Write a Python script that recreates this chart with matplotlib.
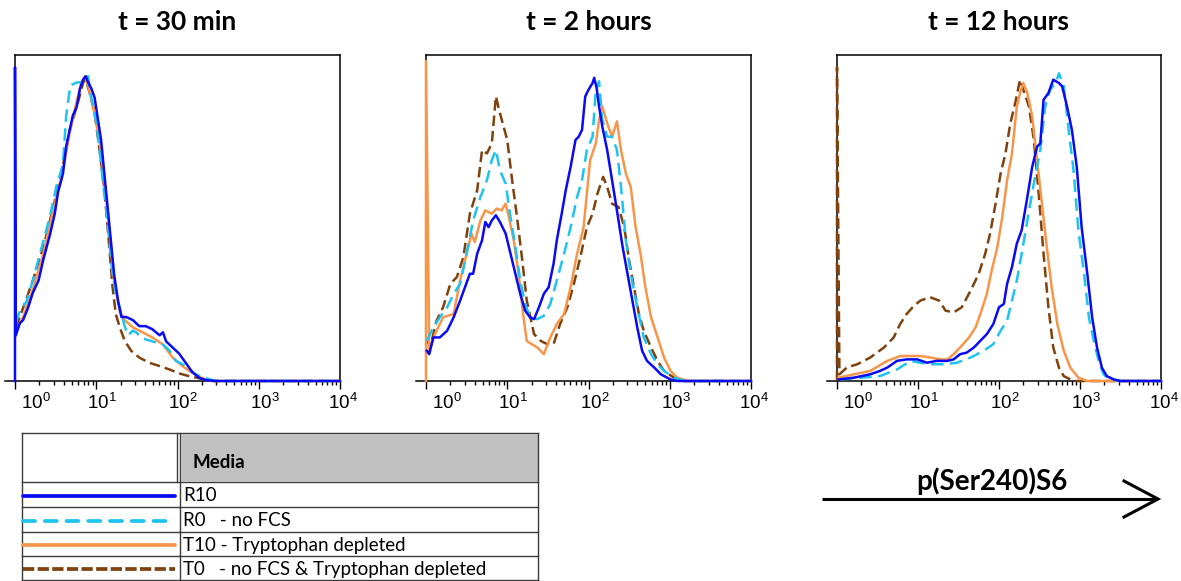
import matplotlib
matplotlib.use("Agg")
import matplotlib.pyplot as plt
import matplotlib.transforms as mtransforms
from matplotlib.ticker import FixedLocator, NullFormatter, NullLocator
import numpy as np

plt.rcParams['mathtext.fontset'] = 'custom'
plt.rcParams['mathtext.rm'] = 'Liberation Sans'
plt.rcParams['mathtext.it'] = 'Liberation Sans:italic'
plt.rcParams['mathtext.bf'] = 'Liberation Sans:bold'
plt.rcParams['mathtext.default'] = 'rm'

# ---------------- data (x = log10 fluorescence, y = % of max) ----------------
TITLES = ["t = 30 min", "t = 2 hours", "t = 12 hours"]
SERIES = ["R10", "R0", "T10", "T0"]
LEGEND_LABELS = ["R10", "R0   - no FCS", "T10 - Tryptophan depleted",
                 "T0   - no FCS & Tryptophan depleted"]
XTICKS = [1, 10, 100, 1000, 10000]
XTICK_LABELS = ["$10^{0}$", "$10^{1}$", "$10^{2}$", "$10^{3}$", "$10^{4}$"]
AXIS_LABEL = "p(Ser240)S6"
TABLE_HEADER = "Media"

# panel 1 : t = 30 min
P1_R10_LX = [0, 0, 0.01, 0.06, 0.10, 0.16, 0.22, 0.29, 0.35, 0.43, 0.49, 0.53, 0.59, 0.63, 0.67, 0.71,
             0.76, 0.80, 0.84, 0.87, 0.90, 0.94, 0.98, 1.02, 1.06, 1.10, 1.14, 1.18, 1.22, 1.27, 1.31,
             1.37, 1.45, 1.53, 1.61, 1.69, 1.78, 1.82, 1.86, 1.94, 2.02, 2.10, 2.18, 2.27, 2.35, 2.47, 4.0]
P1_R10_Y = [0, 103, 15, 19, 20, 24, 29, 33, 40, 48, 55, 62, 68, 77, 82, 87, 90, 96, 99, 100, 98, 96,
            93, 86, 79, 68, 57, 46, 35, 26, 21, 21, 20, 18, 18, 17, 15, 16, 13, 11, 9, 6, 3, 1, 0.3, 0, 0]
P1_R0_LX = [0.01, 0.06, 0.14, 0.22, 0.35, 0.43, 0.51, 0.59, 0.63, 0.68, 0.76, 0.82, 0.86, 0.90, 0.94,
            1.00, 1.04, 1.08, 1.12, 1.16, 1.20, 1.24, 1.29, 1.35, 1.39, 1.45, 1.49, 1.57, 1.69, 1.82,
            1.90, 1.98, 2.10, 2.22, 2.35, 2.47, 4.0]
P1_R0_Y = [19, 23, 26, 33, 46, 54, 64, 71, 87, 97, 98, 98, 100, 100, 93, 85, 76, 66, 57, 46, 35, 29,
           24, 18, 15, 16.5, 16, 14, 13, 12, 10, 6.6, 5, 2.2, 0.9, 0, 0]
P1_T10_LX = [0.01, 0.10, 0.22, 0.35, 0.47, 0.59, 0.67, 0.76, 0.82, 0.86, 0.90, 0.96, 1.04, 1.10, 1.16,
             1.22, 1.29, 1.35, 1.45, 1.57, 1.69, 1.82, 1.94, 2.06, 2.18, 2.31, 2.43, 4.0]
P1_T10_Y = [16.5, 21, 30, 42, 56, 69, 81, 92, 98, 100, 97, 90, 79, 66, 50, 33, 23, 20, 17.6, 16, 14.3,
            12, 7.7, 4.9, 2.7, 0.9, 0, 0]
P1_T0_LX = [0.01, 0.10, 0.22, 0.35, 0.47, 0.57, 0.67, 0.78, 0.84, 0.87, 0.92, 0.98, 1.04, 1.10, 1.16,
            1.20, 1.24, 1.29, 1.35, 1.43, 1.53, 1.65, 1.78, 1.90, 2.02, 2.14, 2.27, 2.43, 4.0]
P1_T0_Y = [17.6, 24, 33, 44, 57, 68, 82, 92, 98, 99, 94.5, 88, 76, 63, 44, 31, 22, 17.6, 13.2, 9.9,
           7.7, 6, 4.9, 3.8, 2.5, 1.6, 0.9, 0, 0]

# panel 2 : t = 2 hours
P2_R10_LX = [0.01, 0.04, 0.09, 0.17, 0.26, 0.34, 0.42, 0.48, 0.54, 0.58,
             0.63, 0.69, 0.73, 0.77, 0.81, 0.86, 0.91, 0.98, 1.04, 1.10,
             1.16, 1.22, 1.28, 1.33, 1.39, 1.45, 1.51, 1.57, 1.61, 1.67,
             1.72, 1.78, 1.84, 1.88, 1.92, 1.96, 2.00, 2.05, 2.07, 2.10,
             2.13, 2.17, 2.23, 2.29, 2.35, 2.42, 2.48, 2.54, 2.60, 2.66,
             2.72, 2.81, 2.89, 3.01, 3.09, 4.0]
P2_R10_Y = [9.9, 8.8, 14.3, 14.3, 16.5, 20.9, 26.4, 30.8, 35.2, 35.2,
            41.8, 46.2, 52.2, 50.5, 52.7, 54.4, 52.2, 48.4, 41.8, 35.2,
            28.6, 23.1, 20.9, 20.3, 24.2, 28.6, 30.8, 38.5, 46.2, 54.9,
            62.6, 70.3, 79.1, 80.2, 82.4, 93.4, 95.6, 97.8, 99.5, 96.2,
            90.1, 83.5, 75.8, 65.9, 56.0, 44.0, 35.2, 26.4, 17.6, 9.9,
            6.6, 4.4, 2.2, 0.5, 0, 0]
P2_R0_LX = [0.01, 0.09, 0.17, 0.26, 0.34, 0.42, 0.50, 0.58, 0.67, 0.75,
            0.81, 0.86, 0.91, 0.98, 1.04, 1.10, 1.16, 1.22, 1.28, 1.37,
            1.45, 1.53, 1.61, 1.70, 1.78, 1.86, 1.92, 1.98, 2.05, 2.09,
            2.13, 2.17, 2.23, 2.29, 2.35, 2.40, 2.46, 2.52, 2.60, 2.68,
            2.77, 2.85, 2.93, 3.05, 3.18, 4.0]
P2_R0_Y = [13.2, 17.6, 20.9, 24.2, 28.6, 31.9, 41.8, 52.7, 60.4, 65.9,
           72.5, 75.8, 69.2, 64.8, 53.8, 44.0, 33.0, 25.3, 20.9, 20.3,
           21.4, 25.3, 33.0, 41.8, 50.5, 60.4, 65.9, 75.8, 80.2, 95.6,
           98.4, 85.7, 80.2, 80.2, 75.8, 63.7, 46.2, 35.2, 24.2, 14.3,
           8.8, 5.5, 3.3, 1.1, 0, 0]
P2_T10_LX = [0, 0, 0.04, 0.11, 0.21, 0.34, 0.42, 0.50, 0.56, 0.60,
             0.67, 0.73, 0.81, 0.87, 0.93, 0.98, 1.02, 1.08, 1.14, 1.20,
             1.24, 1.30, 1.37, 1.45, 1.53, 1.61, 1.70, 1.78, 1.86, 1.94,
             2.02, 2.09, 2.13, 2.17, 2.23, 2.29, 2.35, 2.40, 2.46, 2.52,
             2.58, 2.64, 2.70, 2.77, 2.85, 2.93, 3.01, 3.09, 3.22, 4.0]
P2_T10_Y = [0, 105, 9.9, 15.4, 20.9, 22.0, 33.0, 41.8, 48.4, 45.6,
            52.7, 56.0, 54.9, 56.6, 56.0, 58.2, 53.8, 46.2, 35.2, 20.9,
            13.2, 12.1, 11.0, 8.8, 14.3, 18.7, 22.0, 30.8, 41.8, 50.5,
            72.5, 78.0, 85.7, 90.1, 84.6, 80.2, 85.2, 75.8, 68.1, 63.7,
            50.5, 41.8, 30.8, 20.9, 14.3, 7.7, 3.3, 1.1, 0, 0]
P2_T0_LX = [0.02, 0.05, 0.13, 0.21, 0.30, 0.38, 0.46, 0.54, 0.63, 0.69,
            0.75, 0.81, 0.86, 0.91, 1.00, 1.06, 1.12, 1.18, 1.24, 1.33,
            1.41, 1.49, 1.57, 1.65, 1.74, 1.82, 1.90, 1.98, 2.05, 2.11,
            2.18, 2.23, 2.29, 2.37, 2.44, 2.50, 2.56, 2.62, 2.68, 2.77,
            2.85, 2.93, 3.05, 3.18, 4.0]
P2_T0_Y = [13.2, 11.0, 19.8, 24.2, 31.9, 34.1, 40.7, 54.9, 62.6, 75.8,
           74.7, 78.0, 93.4, 87.9, 79.1, 65.9, 53.8, 40.7, 26.4, 15.4,
           13.2, 12.1, 12.1, 18.7, 24.2, 31.9, 40.7, 50.5, 54.9, 61.5,
           67.0, 63.7, 58.2, 57.1, 50.5, 39.6, 30.8, 22.0, 16.5, 11.0,
           6.6, 3.3, 1.1, 0, 0]

# panel 3 : t = 12 hours
P3_R10_LX = [0.02, 0.21, 0.41, 0.53, 0.62, 0.74, 0.86, 0.99, 1.11, 1.23,
             1.36, 1.44, 1.52, 1.60, 1.69, 1.77, 1.85, 1.93, 2.00, 2.06,
             2.10, 2.16, 2.22, 2.28, 2.35, 2.41, 2.47, 2.51, 2.55, 2.61,
             2.67, 2.74, 2.78, 2.84, 2.90, 2.96, 3.02, 3.09, 3.15, 3.21,
             3.27, 3.33, 3.42, 3.50, 4.0]
P3_R10_Y = [0.5, 1.1, 2.2, 3.3, 4.4, 6.6, 7.1, 7.1, 6.0, 6.6,
            6.6, 7.1, 8.8, 9.3, 11.0, 13.2, 15.4, 18.7, 24.2, 25.3,
            31.9, 37.4, 45.1, 49.5, 60.4, 70.3, 76.9, 78.0, 92.3, 94.5,
            98.9, 97.8, 96.7, 90.1, 82.4, 70.3, 50.5, 35.2, 20.9, 11.0,
            4.4, 1.6, 0.5, 0, 0]
P3_R0_LX = [0.04, 0.29, 0.53, 0.74, 0.91, 1.03, 1.15, 1.32, 1.48, 1.65,
            1.81, 1.93, 2.02, 2.10, 2.16, 2.22, 2.28, 2.35, 2.43, 2.51,
            2.57, 2.63, 2.70, 2.74, 2.80, 2.86, 2.92, 2.98, 3.05, 3.11,
            3.17, 3.23, 3.29, 3.37, 3.50, 4.0]
P3_R0_Y = [0.5, 1.1, 1.6, 3.8, 6.6, 6.0, 5.5, 5.5, 6.0, 7.7,
           9.9, 12.1, 16.5, 19.8, 26.4, 33.0, 41.8, 52.7, 64.8, 75.8,
           90.1, 95.6, 97.8, 101, 96.7, 82.4, 69.2, 49.5, 35.2, 20.9,
           13.2, 6.6, 2.2, 0.5, 0, 0]
P3_T10_LX = [0.02, 0.21, 0.41, 0.62, 0.78, 0.91, 1.03, 1.15, 1.28, 1.36,
             1.44, 1.52, 1.63, 1.71, 1.77, 1.85, 1.91, 1.98, 2.04, 2.10,
             2.16, 2.22, 2.26, 2.30, 2.35, 2.41, 2.47, 2.53, 2.59, 2.65,
             2.72, 2.80, 2.88, 2.98, 3.09, 4.0]
P3_T10_Y = [1.1, 2.2, 3.3, 6.6, 8.2, 8.2, 8.2, 7.7, 7.1, 7.1,
            8.8, 11.0, 14.3, 17.6, 22.0, 28.6, 36.3, 44.0, 53.8, 65.9,
            74.7, 90.1, 94.5, 97.8, 94.5, 86.8, 72.5, 58.2, 44.0, 30.8,
            18.7, 9.9, 4.4, 1.1, 0, 0]
P3_T0_LX = [0, 0, 0.03, 0.12, 0.25, 0.41, 0.58, 0.70, 0.78, 0.86,
            0.95, 1.03, 1.15, 1.26, 1.34, 1.44, 1.54, 1.65, 1.75, 1.83,
            1.89, 1.95, 2.02, 2.08, 2.14, 2.20, 2.26, 2.30, 2.37, 2.43,
            2.49, 2.55, 2.61, 2.67, 2.74, 2.80, 2.92, 4.0]
P3_T0_Y = [0, 103, 2.2, 4.4, 5.5, 7.7, 11.0, 14.3, 18.7, 22.0,
           24.7, 26.4, 27.5, 26.4, 23.1, 22.5, 24.2, 29.7, 35.2, 41.8,
           48.4, 57.1, 68.1, 74.7, 84.6, 91.2, 98.9, 95.6, 90.1, 79.1,
           61.5, 41.8, 24.2, 11.0, 4.4, 1.6, 0, 0]

PANEL_DATA = [
    {"R10": (P1_R10_LX, P1_R10_Y), "R0": (P1_R0_LX, P1_R0_Y),
     "T10": (P1_T10_LX, P1_T10_Y), "T0": (P1_T0_LX, P1_T0_Y)},
    {"R10": (P2_R10_LX, P2_R10_Y), "R0": (P2_R0_LX, P2_R0_Y),
     "T10": (P2_T10_LX, P2_T10_Y), "T0": (P2_T0_LX, P2_T0_Y)},
    {"R10": (P3_R10_LX, P3_R10_Y), "R0": (P3_R0_LX, P3_R0_Y),
     "T10": (P3_T10_LX, P3_T10_Y), "T0": (P3_T0_LX, P3_T0_Y)},
]

# ---------------- styles ----------------
COLORS = {"R10": "#0a0af5", "R0": "#1ec3f0", "T10": "#f7964a", "T0": "#7f420e"}
DASH = {"R10": "-", "R0": (0, (5.0, 2.6)), "T10": "-", "T0": (0, (4.2, 2.0))}
LEG_DASH = {"R10": "-", "R0": (0, (3.2, 2.6)), "T10": "-", "T0": (0, (3.0, 0.9))}

W, H = 1181, 581
fig = plt.figure(figsize=(W / 100, H / 100), dpi=100)
fig.patch.set_facecolor("white")


def px_axes(left, top, right, bottom, **kw):
    return fig.add_axes([left / W, 1 - bottom / H, (right - left) / W, (bottom - top) / H], **kw)


PANELS = [(15, 55, 340, 381), (426, 55, 751, 381), (837, 55, 1161, 381)]
LABEL_DX = [6, -9, -9, -9, -12]  # px offsets of tick labels (left aligned)

for i, (l, t, r, b) in enumerate(PANELS):
    ax = px_axes(l, t, r, b)
    ax.set_xscale("log")
    ax.set_xlim(1, 1e4)
    ax.set_ylim(0, 107)
    for name in reversed(SERIES):
        lx, yv = PANEL_DATA[i][name]
        ax.plot(10 ** np.asarray(lx), yv, color=COLORS[name], ls=DASH[name], lw=1.8,
                zorder=3, clip_on=False, solid_joinstyle="round")
    for s in ax.spines.values():
        s.set_linewidth(1.1)
        s.set_color("black")
    ax.yaxis.set_major_locator(NullLocator())
    ax.yaxis.set_minor_locator(NullLocator())
    ax.xaxis.set_major_locator(FixedLocator(XTICKS))
    minors = [m * 10 ** d for d in range(4) for m in range(2, 10)]
    ax.xaxis.set_minor_locator(FixedLocator(minors))
    ax.xaxis.set_major_formatter(NullFormatter())
    ax.xaxis.set_minor_formatter(NullFormatter())
    ax.tick_params(axis="x", which="major", length=5.5, width=1.0, direction="out", color="black")
    ax.tick_params(axis="x", which="minor", length=3.0, width=1.0, direction="out", color="black")
    # small extension of the x axis line to the left
    ax.plot([-0.03, 0], [0, 0], transform=ax.transAxes, color="black", lw=1.1, clip_on=False)
    for v, lab, dx in zip(XTICKS, XTICK_LABELS, LABEL_DX):
        off = mtransforms.ScaledTranslation(dx / 100, -12 / 100, fig.dpi_scale_trans)
        ax.text(v, 0, lab, transform=ax.get_xaxis_transform() + off, ha="left", va="top",
                fontsize=13.5, family="Liberation Sans", color="black")
    fig.text(((l + r) / 2) / W, 1 - 22 / H, TITLES[i], ha="center", va="center",
             fontsize=19, fontweight="bold", family="Lato")

# ---------------- overlay: legend table and axis arrow ----------------
ov = fig.add_axes([0, 0, 1, 1])
ov.set_xlim(0, W)
ov.set_ylim(H, 0)
ov.axis("off")
ov.patch.set_visible(False)

TL, TR, TT = 22, 538, 433
ROW_LINES = [482, 507, 532, 556, 580]
GRID = "#3a3a3a"
ov.add_patch(plt.Rectangle((181, TT + 1), TR - 181, ROW_LINES[0] - TT - 2,
                           facecolor="#c0c0c0", edgecolor="#e0e0e0", lw=0.8))
ov.plot([TL, TR], [TT, TT], color=GRID, lw=1.0)
for yl in ROW_LINES:
    ov.plot([TL, TR], [yl, yl], color=GRID, lw=1.0)
ov.plot([TL, TL], [TT, H], color=GRID, lw=1.0)
ov.plot([TR, TR], [TT, H], color=GRID, lw=1.0)
ov.plot([177, 177], [TT, ROW_LINES[0]], color=GRID, lw=1.0)
ov.plot([180, 180], [TT, H], color=GRID, lw=1.0)
ov.text(192, 462, TABLE_HEADER, ha="left", va="center", fontsize=13.5,
        fontweight="bold", family="Lato")
for k, name in enumerate(SERIES):
    yc = (ROW_LINES[k] + ROW_LINES[k + 1]) / 2 + 1
    ov.plot([TL + 1, 175], [yc, yc], color=COLORS[name], ls=LEG_DASH[name], lw=2.7,
            solid_capstyle="round", dash_capstyle="round" if name == "R0" else "butt")
    ov.text(183, yc, LEGEND_LABELS[k], ha="left", va="center", fontsize=13.5, family="Lato")

# arrow with label
ov.plot([822, 1157], [499, 499], color="black", lw=2.2, solid_capstyle="butt")
ov.plot([1124, 1158, 1124], [481, 499, 517], color="black", lw=2.2, solid_joinstyle="miter")
ov.text(992, 490, AXIS_LABEL, ha="center", va="baseline", fontsize=20,
        fontweight="bold", family="Lato")

fig.savefig("out.png", dpi=100, facecolor="white")
